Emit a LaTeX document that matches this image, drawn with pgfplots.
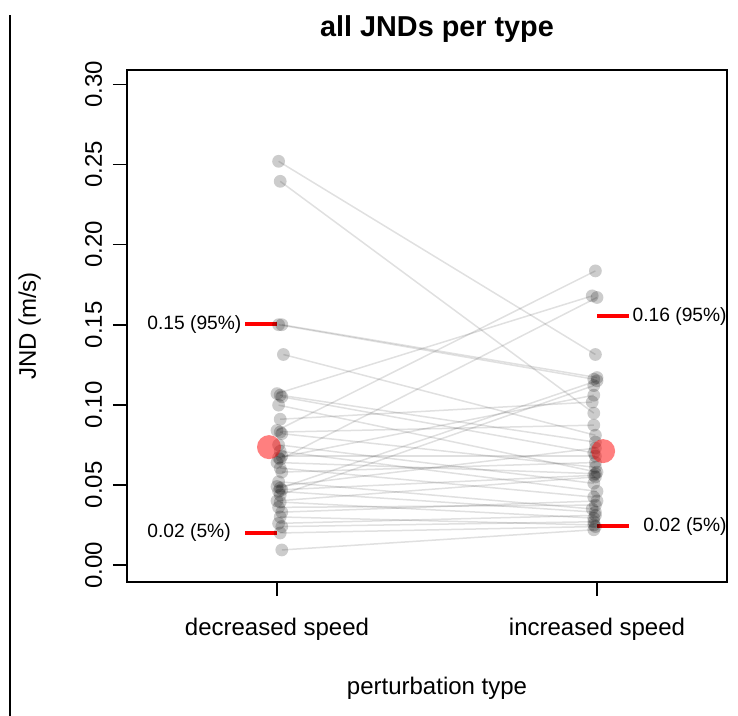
\documentclass[border=0pt]{standalone}
\usepackage{fontspec}
\setmainfont{Liberation Sans}
\usepackage{pgfplots}
\usepackage{pgfplotstable}
\pgfplotsset{compat=1.18}

% paired JNDs: decreased speed (xl, yl) -> increased speed (xr, yr)
\pgfplotstableread{
xl     yl      xr     yr
1.005  0.252   1.995  0.1314
1.010  0.2395  1.990  0.0948
1.015  0.150   2.000  0.117
1.005  0.150   1.990  0.116
1.020  0.1314  1.995  0.081
1.000  0.107   1.985  0.168
1.010  0.106   1.995  0.0767
1.015  0.105   1.990  0.070
1.005  0.0998  2.000  0.058
1.010  0.091   1.985  0.1017
1.000  0.084   1.995  0.1836
1.010  0.083   1.990  0.0873
1.015  0.082   1.995  0.061
1.005  0.075   1.990  0.051
1.010  0.071   2.000  0.046
1.015  0.068   1.995  0.068
1.005  0.067   1.990  0.106
1.010  0.066   2.000  0.167
1.000  0.064   1.995  0.057
1.010  0.0605  1.990  0.0424
1.015  0.058   1.995  0.064
1.005  0.052   1.985  0.035
1.000  0.049   1.995  0.073
1.010  0.048   2.000  0.115
1.015  0.047   1.990  0.056
1.005  0.046   1.995  0.033
1.010  0.0437  1.990  0.112
1.000  0.040   1.995  0.055
1.010  0.0393  1.990  0.0293
1.005  0.036   1.995  0.0374
1.015  0.033   2.000  0.040
1.010  0.030   1.990  0.025
1.005  0.026   1.995  0.031
1.015  0.024   1.990  0.027
1.010  0.020   1.995  0.024
1.015  0.0094  1.990  0.022
}\jnds

\begin{document}
\begin{tikzpicture}
\path[use as bounding box] (0,0) rectangle (369bp,358bp);
\draw[line width=1bp] (5bp,0) -- (5bp,350.5bp);
\begin{axis}[
    at={(63.5bp,67bp)}, anchor=south west,
    scale only axis, width=300bp, height=256bp,
    xmin=0.53125, xmax=2.40625,
    ymin=-0.0106, ymax=0.309,
    clip=false,
    xtick={1,2}, xticklabels={decreased speed, increased speed},
    ytick={0,0.05,0.1,0.15,0.2,0.25,0.3},
    scaled y ticks=false,
    /pgf/number format/assume math mode=true,
    yticklabel style={/pgf/number format/fixed, /pgf/number format/fixed zerofill,
        /pgf/number format/precision=2, rotate=90, anchor=base},
    yticklabel shift=5.5bp,
    xticklabel style={anchor=base, yshift=-19.5bp},
    tick label style={font=\fontsize{12bp}{14bp}\selectfont},
    tick align=outside, xtick pos=bottom, ytick pos=left,
    major tick length=7bp,
    tick style={black, line width=0.8bp},
    axis line style={line width=0.8bp},
    title={all JNDs per type},
    title style={at={(axis description cs:0.5,1)}, anchor=base, yshift=11bp, xshift=5bp,
        font=\bfseries\fontsize{14.4bp}{17bp}\selectfont},
    xlabel={perturbation type},
    xlabel style={at={(axis description cs:0.5167,-0.2195)}, anchor=base,
        font=\fontsize{12bp}{14bp}\selectfont},
    ylabel={JND (m/s)},
    ylabel style={at={(axis description cs:-0.152,0.5)}, anchor=base,
        font=\fontsize{12bp}{14bp}\selectfont},
]
% lines joining each participant's two JNDs
\addplot[quiver={u=\thisrow{xr}-\thisrow{xl}, v=\thisrow{yr}-\thisrow{yl}},
    black, opacity=0.12, line width=0.75bp] table[x=xl, y=yl]{\jnds};
\addplot[only marks, mark=*, mark size=3.2bp,
    mark options={draw opacity=0, fill=black, fill opacity=0.2}] table[x=xl, y=yl]{\jnds};
\addplot[only marks, mark=*, mark size=3.2bp,
    mark options={draw opacity=0, fill=black, fill opacity=0.2}] table[x=xr, y=yr]{\jnds};
% means
\addplot[only marks, mark=*, mark size=6bp,
    mark options={draw opacity=0, fill=red, fill opacity=0.5}] coordinates {(0.975,0.0736) (2.019,0.0711)};
% 5% and 95% quantiles
\addplot[red, line width=2bp] coordinates {(0.9,0.1503) (1,0.1503)};
\addplot[red, line width=2bp] coordinates {(0.9,0.0200) (1,0.0200)};
\addplot[red, line width=2bp] coordinates {(2,0.1553) (2.1,0.1553)};
\addplot[red, line width=2bp] coordinates {(2,0.0243) (2.1,0.0243)};
\node[anchor=west, inner sep=0, font=\fontsize{9.6bp}{11bp}\selectfont] at (axis cs:0.594,0.1503) {0.15 (95\%)};
\node[anchor=west, inner sep=0, font=\fontsize{9.6bp}{11bp}\selectfont] at (axis cs:0.594,0.0200) {0.02 (5\%)};
\node[anchor=east, inner sep=0, font=\fontsize{9.6bp}{11bp}\selectfont] at (axis cs:2.40625,0.1553) {0.16 (95\%)};
\node[anchor=east, inner sep=0, font=\fontsize{9.6bp}{11bp}\selectfont] at (axis cs:2.40625,0.0243) {0.02 (5\%)};
\end{axis}
\end{tikzpicture}
\end{document}
